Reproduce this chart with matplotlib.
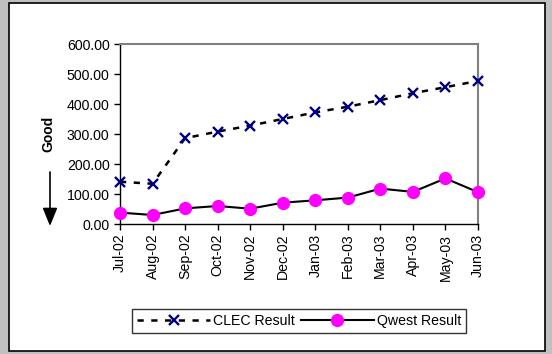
import matplotlib
matplotlib.use("Agg")
import matplotlib.pyplot as plt
from matplotlib.patches import Rectangle

plt.rcParams['font.family'] = ['Liberation Sans', 'DejaVu Sans']

months = ['Jul-02', 'Aug-02', 'Sep-02', 'Oct-02', 'Nov-02', 'Dec-02',
          'Jan-03', 'Feb-03', 'Mar-03', 'Apr-03', 'May-03', 'Jun-03']
clec = [141, 134, 286, 308, 328, 350, 372, 391, 413, 436, 456, 477]
qwest = [38, 30, 52, 60, 51, 71, 79, 88, 118, 107, 152, 106]

W, H = 552, 354
fig = plt.figure(figsize=(W / 100, H / 100), dpi=100)
fig.patch.set_facecolor('#c0c0c0')

# white chart area with black frame
fig.patches.append(Rectangle((9 / W, 3 / H), 536 / W, 348 / H, transform=fig.transFigure,
                             facecolor='white', edgecolor='black', linewidth=1.2, zorder=-10))

ax = fig.add_axes([120 / W, (H - 224) / H, 358 / W, 180 / H])
ax.set_zorder(1)
ax.set_facecolor('white')
x = list(range(len(months)))

ax.plot(x, clec, color='black', linestyle=(0, (2.5, 3)), linewidth=1.8,
        marker='x', markersize=7.5, markeredgewidth=1.7, markeredgecolor='#000080',
        label='CLEC Result', clip_on=False, zorder=3)
ax.plot(x, qwest, color='black', linestyle='-', linewidth=1.5,
        marker='o', markersize=8.5, markerfacecolor='#ff00ff', markeredgecolor='#ff00ff',
        label='Qwest Result', clip_on=False, zorder=3)

ax.set_xlim(0, 11)
ax.set_ylim(0, 600)
ax.set_yticks(range(0, 601, 100))
ax.set_yticklabels(['%.2f' % v for v in range(0, 601, 100)])
ax.set_xticks(x)
ax.set_xticklabels(months, rotation=90)
ax.tick_params(axis='both', labelsize=10.2, direction='out', length=4, width=1, colors='black')
ax.tick_params(axis='x', pad=3)

for side in ['top', 'right']:
    ax.spines[side].set_color('#808080')
    ax.spines[side].set_linewidth(1.5)
for side in ['left', 'bottom']:
    ax.spines[side].set_color('black')
    ax.spines[side].set_linewidth(1)

fig.text(48 / W, 1 - 134 / H, 'Good', rotation=90, fontsize=10, fontweight='bold',
         ha='center', va='center')
fig.add_artist(plt.Annotation('', xy=(50, H - 226), xytext=(50, H - 172),
                              xycoords='figure pixels', textcoords='figure pixels',
                              arrowprops=dict(arrowstyle='-|>,head_length=1.1,head_width=0.45',
                                              color='black', linewidth=1.2,
                                              shrinkA=0, shrinkB=0)))

leg = fig.legend(loc='center', bbox_to_anchor=(299 / W, 1 - 321 / H), ncol=2,
                 fontsize=10.2, frameon=True, fancybox=False, handlelength=5.2,
                 columnspacing=0.4, handletextpad=0.2, borderpad=0.35)
leg.get_frame().set_edgecolor('black')
leg.get_frame().set_linewidth(1)

fig.savefig('out.png', dpi=100, facecolor=fig.get_facecolor())
